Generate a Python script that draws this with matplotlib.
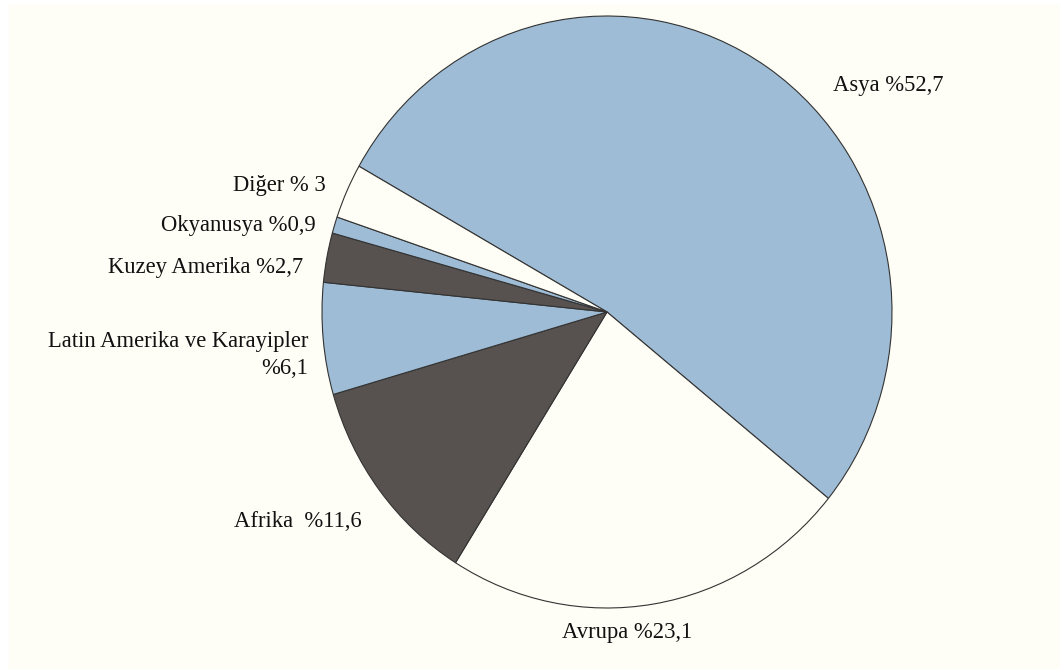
import matplotlib.pyplot as plt
from matplotlib.patches import Rectangle

regions = ['Asya', 'Avrupa', 'Afrika', 'Latin Amerika ve Karayipler',
           'Kuzey Amerika', 'Okyanusya', 'Diğer']
shares = [52.7, 23.1, 11.6, 6.1, 2.7, 0.9, 3.0]
labels = ['Asya %52,7', 'Avrupa %23,1', 'Afrika  %11,6',
          'Latin Amerika ve Karayipler\n%6,1', 'Kuzey Amerika %2,7',
          'Okyanusya %0,9', 'Diğer % 3']

bg = '#FFFEF6'
blue = '#9EBCD5'
dark = '#57524F'
colors = [blue, bg, dark, blue, dark, blue, bg]

plt.rcParams['font.family'] = ['Liberation Serif', 'DejaVu Serif']

fig = plt.figure(figsize=(10.6, 6.69), dpi=100)
ax = fig.add_axes([0, 0, 1, 1])
ax.set_facecolor('none')
# off-white panel behind the chart
ax.add_patch(Rectangle((9 / 1060, 0), 1, 1 - 5 / 669,
                       transform=fig.transFigure, color=bg, zorder=-5))

ax.pie(shares, colors=colors, startangle=150.5, counterclock=False,
       wedgeprops=dict(edgecolor='#333333', linewidth=0.8))
ax.set_aspect('auto')
ax.set_xlim(-607 / 285, (1060 - 607) / 285)
ax.set_ylim(-(669 - 312) / 296, 312 / 296)
ax.axis('off')

# label anchors (x, y, ha)
pos = [(0.793, 0.764, 'left'), (0.070, -1.084, 'center'),
       (-0.860, -0.709, 'right'), (-1.049, -0.145, 'right'),
       (-1.067, 0.152, 'right'), (-1.021, 0.291, 'right'),
       (-0.986, 0.429, 'right')]
for lab, (x, y, ha) in zip(labels, pos):
    ax.text(x, y, lab, ha=ha, va='center', fontsize=16.3, color='#111111',
            multialignment='right', linespacing=1.35)

fig.savefig('out.png', dpi=100)
